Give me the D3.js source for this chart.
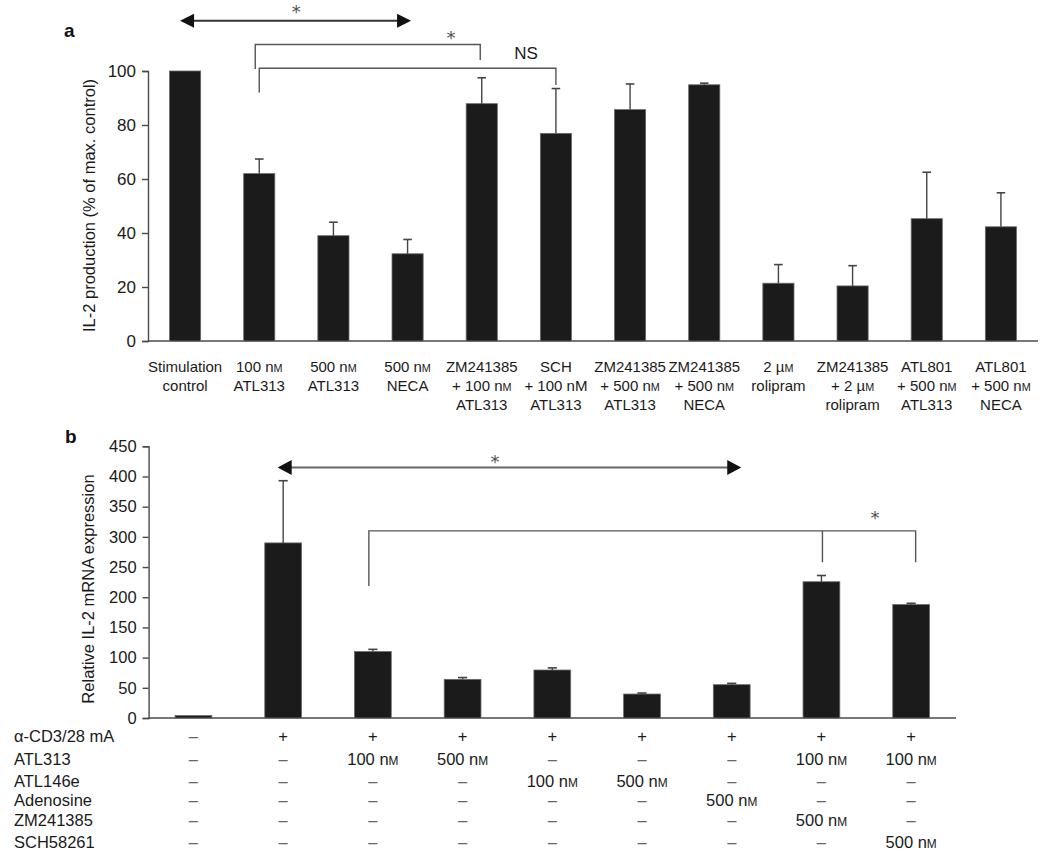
<!DOCTYPE html>
<html><head><meta charset="utf-8">
<script src="https://cdn.jsdelivr.net/npm/d3@7/dist/d3.min.js"></script>
<style>
html,body{margin:0;padding:0;background:#fff;}
svg{display:block;font-family:"Liberation Sans",Arial,Helvetica,sans-serif;}
</style></head>
<body>
<svg id="chart" width="1050" height="861"></svg>
<script>
// ---------- Panel a data ----------
const catsA = [
  ["Stimulation","control"],
  ["100 n|M","ATL313"],
  ["500 n|M","ATL313"],
  ["500 n|M","NECA"],
  ["ZM241385","+ 100 n|M","ATL313"],
  ["SCH","+ 100 nM","ATL313"],
  ["ZM241385","+ 500 n|M","ATL313"],
  ["ZM241385","+ 500 n|M","NECA"],
  ["2 µ|M","rolipram"],
  ["ZM241385","+ 2 µ|M","rolipram"],
  ["ATL801","+ 500 n|M","ATL313"],
  ["ATL801","+ 500 n|M","NECA"]
];
const valuesA = [100, 62.0, 39.0, 32.3, 87.9, 76.9, 85.7, 94.9, 21.4, 20.4, 45.3, 42.3];
const errTopA = [null, 67.4, 44.0, 37.6, 97.5, 93.5, 95.2, 95.5, 28.3, 27.9, 62.5, 54.9];
const ticksA = [0, 20, 40, 60, 80, 100];

// ---------- Panel b data ----------
const valuesB = [4, 290, 110, 64, 79.5, 39.7, 55.2, 225.7, 188];
const errTopB = [null, 393, 113.7, 67, 83, 41.4, 57.4, 236, 190];
const ticksB = [0, 50, 100, 150, 200, 250, 300, 350, 400, 450];
const rowLabels = ["α-CD3/28 mA", "ATL313", "ATL146e", "Adenosine", "ZM241385", "SCH58261"];
const rowCD3   = ["–","+","+","+","+","+","+","+","+"];
const rowATL313 = ["–","–","100 n|M","500 n|M","–","–","–","100 n|M","100 n|M"];
const rowATL146e = ["–","–","–","–","100 n|M","500 n|M","–","–","–"];
const rowAdenosine = ["–","–","–","–","–","–","500 n|M","–","–"];
const rowZM = ["–","–","–","–","–","–","–","500 n|M","–"];
const rowSCH = ["–","–","–","–","–","–","–","–","500 n|M"];
const tableRows = [rowCD3, rowATL313, rowATL146e, rowAdenosine, rowZM, rowSCH];

const svg = d3.select("#chart");
const FONT = '"Liberation Sans",Arial,Helvetica,sans-serif';
const AXIS_COL = "#4a4a4a";
const BAR_FILL = "#1b1b1b";

// helper: text with small-caps M after "|"
function richText(sel, str, size){
  const parts = str.split("|");
  sel.append("tspan").text(parts[0]);
  if (parts.length > 1){
    sel.append("tspan").attr("font-size", size*0.72).text(parts[1]);
  }
}

// ================= PANEL A =================
const xA = d3.scaleBand().domain(d3.range(catsA.length)).range([148, 1038]).paddingInner(0.58).paddingOuter(0.29);
const yA = d3.scaleLinear().domain([0, 100]).range([341, 71]);
const cA = i => xA(i) + xA.bandwidth()/2;

const gA = svg.append("g");
const yAxisA = d3.axisLeft(yA).tickValues(ticksA).tickSize(6).tickPadding(6);
const gyA = gA.append("g").attr("transform","translate(148,0)").call(yAxisA);
gyA.select(".domain").attr("stroke", AXIS_COL).attr("stroke-width",1.4);
gyA.selectAll(".tick line").attr("stroke", AXIS_COL).attr("stroke-width",1.4);
gyA.selectAll(".tick text").attr("font-family",FONT).attr("font-size",17).attr("fill","#1a1a1a");
gA.append("line").attr("x1",148).attr("x2",1038).attr("y1",yA(0)).attr("y2",yA(0))
  .attr("stroke",AXIS_COL).attr("stroke-width",1.6);
gA.selectAll("rect.bar").data(valuesA).enter().append("rect")
  .attr("x",(d,i)=>xA(i)).attr("width",xA.bandwidth())
  .attr("y",d=>yA(d)).attr("height",d=>yA(0)-yA(d))
  .attr("fill",BAR_FILL).attr("stroke","#6a6a6a").attr("stroke-width",0.8);
errTopA.forEach((e,i)=>{
  if(e==null) return;
  gA.append("line").attr("x1",cA(i)).attr("x2",cA(i)).attr("y1",yA(valuesA[i])).attr("y2",yA(e))
    .attr("stroke","#444").attr("stroke-width",1.4);
  gA.append("line").attr("x1",cA(i)-4.3).attr("x2",cA(i)+4.3).attr("y1",yA(e)).attr("y2",yA(e))
    .attr("stroke","#444").attr("stroke-width",1.6);
});
catsA.forEach((lines,i)=>{
  lines.forEach((ln,k)=>{
    const t = gA.append("text").attr("x",cA(i)).attr("y",372+k*19.2)
      .attr("text-anchor","middle").attr("font-family",FONT).attr("font-size",15).attr("fill","#1a1a1a");
    richText(t, ln, 15);
  });
});
gA.append("text").attr("transform","translate(95,205.5) rotate(-90)").attr("text-anchor","middle")
  .attr("font-family",FONT).attr("font-size",16.5).attr("fill","#1a1a1a")
  .text("IL-2 production (% of max. control)");
gA.append("text").attr("x",64).attr("y",37).attr("font-family",FONT).attr("font-weight","bold")
  .attr("font-size",19).attr("fill","#111").text("a");

function dblArrow(g, x1, x2, y, head, half, col, lineCol, lw){
  g.append("line").attr("x1",x1+head-1).attr("x2",x2-head+1).attr("y1",y).attr("y2",y)
    .attr("stroke",lineCol).attr("stroke-width",lw);
  g.append("path").attr("d",`M${x1},${y} L${x1+head},${y-half} L${x1+head},${y+half} Z`).attr("fill",col);
  g.append("path").attr("d",`M${x2},${y} L${x2-head},${y-half} L${x2-head},${y+half} Z`).attr("fill",col);
}
function asterisk(g, x, yc){
  g.append("text").attr("x",x).attr("y",yc+10.5).attr("text-anchor","middle")
    .attr("font-family","DejaVu Sans").attr("font-size",18).attr("fill","#505050").text("*");
}
dblArrow(gA, cA(0)-5, cA(3)+3.5, yA(118.6), 14, 7, "#111", "#333", 2);
asterisk(gA, (cA(0)+cA(3))/2, 7);
gA.append("path").attr("d",
  `M${cA(1)-4},${yA(100.7)} L${cA(1)-4},${yA(109.8)} L${cA(4)-1.5},${yA(109.8)} L${cA(4)-1.5},${yA(104.1)}`)
  .attr("fill","none").attr("stroke","#555").attr("stroke-width",1.4);
asterisk(gA, 451, 33);
gA.append("path").attr("d",
  `M${cA(1)},${yA(92)} L${cA(1)},${yA(101)} L${cA(5)},${yA(101)} L${cA(5)},${yA(94.8)}`)
  .attr("fill","none").attr("stroke","#555").attr("stroke-width",1.4);
gA.append("text").attr("x",526).attr("y",59).attr("text-anchor","middle").attr("font-family",FONT)
  .attr("font-size",17).attr("fill","#1a1a1a").text("NS");

// ================= PANEL B =================
const xB = d3.scaleBand().domain(d3.range(valuesB.length)).range([148.6, 956]).paddingInner(0.59).paddingOuter(0.295);
const yB = d3.scaleLinear().domain([0, 450]).range([718, 446.3]);
const cB = i => xB(i) + xB.bandwidth()/2;
const gB = svg.append("g");
const yAxisB = d3.axisLeft(yB).tickValues(ticksB).tickSize(6).tickPadding(6);
const gyB = gB.append("g").attr("transform","translate(148.6,0)").call(yAxisB);
gyB.select(".domain").attr("stroke", AXIS_COL).attr("stroke-width",1.4);
gyB.selectAll(".tick line").attr("stroke", AXIS_COL).attr("stroke-width",1.4);
gyB.selectAll(".tick text").attr("font-family",FONT).attr("font-size",16.5).attr("fill","#1a1a1a");
gB.append("line").attr("x1",148.6).attr("x2",956).attr("y1",yB(0)).attr("y2",yB(0))
  .attr("stroke",AXIS_COL).attr("stroke-width",1.6);
gB.selectAll("rect.bar").data(valuesB).enter().append("rect")
  .attr("x",(d,i)=>xB(i)).attr("width",xB.bandwidth())
  .attr("y",d=>yB(d)).attr("height",d=>yB(0)-yB(d))
  .attr("fill",BAR_FILL).attr("stroke","#6a6a6a").attr("stroke-width",0.8);
errTopB.forEach((e,i)=>{
  if(e==null) return;
  gB.append("line").attr("x1",cB(i)).attr("x2",cB(i)).attr("y1",yB(valuesB[i])).attr("y2",yB(e))
    .attr("stroke","#444").attr("stroke-width",1.4);
  gB.append("line").attr("x1",cB(i)-4.6).attr("x2",cB(i)+4.6).attr("y1",yB(e)).attr("y2",yB(e))
    .attr("stroke","#444").attr("stroke-width",1.6);
});
gB.append("text").attr("transform","translate(94,589) rotate(-90)").attr("text-anchor","middle")
  .attr("font-family",FONT).attr("font-size",16.5).attr("fill","#1a1a1a")
  .text("Relative IL-2 mRNA expression");
gB.append("text").attr("x",65).attr("y",443).attr("font-family",FONT).attr("font-weight","bold")
  .attr("font-size",19).attr("fill","#111").text("b");

dblArrow(gB, cB(1)-5.5, cB(6)+9.5, yB(415), 14, 7.5, "#111", "#666", 2);
asterisk(gB, 495, 457);
gB.append("path").attr("d",
  `M${cB(2)-4},${yB(218.6)} L${cB(2)-4},${yB(310)} L${cB(8)+4.5},${yB(310)} L${cB(8)+4.5},${yB(258)}`)
  .attr("fill","none").attr("stroke","#555").attr("stroke-width",1.4);
gB.append("line").attr("x1",cB(7)+1).attr("x2",cB(7)+1).attr("y1",yB(310)).attr("y2",yB(258))
  .attr("stroke","#555").attr("stroke-width",1.4);
asterisk(gB, 875, 513);

const rowY = [742, 765, 786.5, 805.5, 826, 847.5];
rowLabels.forEach((lab,r)=>{
  gB.append("text").attr("x",14).attr("y",rowY[r]).attr("font-family",FONT).attr("font-size",16.5)
    .attr("fill","#1a1a1a").text(lab);
  tableRows[r].forEach((v,i)=>{
    const isDash = v==="–";
    const t = gB.append("text").attr("x",cB(i)).attr("y",rowY[r]).attr("text-anchor","middle")
      .attr("font-family",FONT).attr("font-size",16.5).attr("fill",isDash?"#666":"#1a1a1a");
    richText(t, v, 16.5);
  });
});
</script>
</body></html>
